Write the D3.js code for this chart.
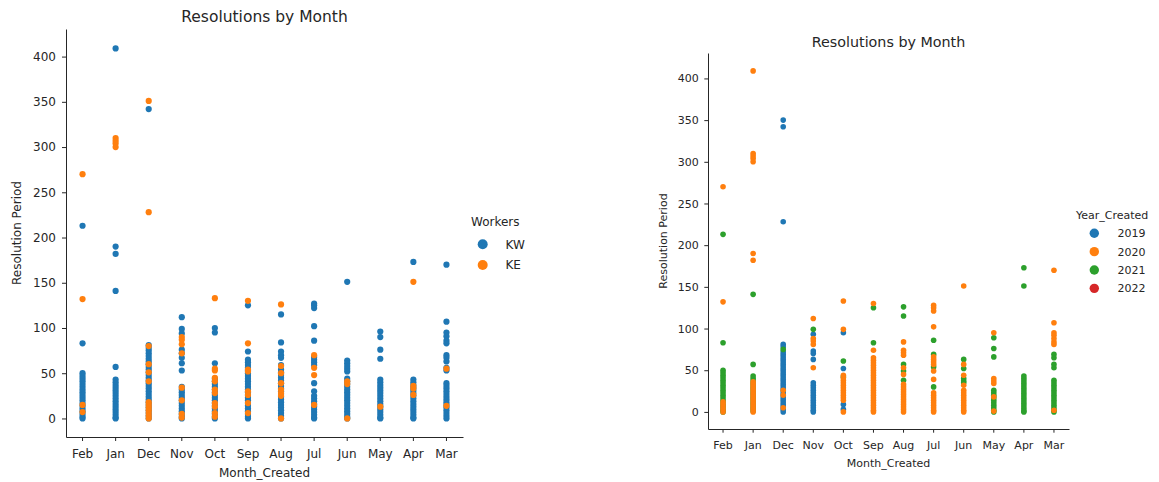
<!DOCTYPE html>
<html>
<head>
<meta charset="utf-8">
<script src="https://cdn.jsdelivr.net/npm/d3@7"></script>
<style>
  body { margin: 0; background: #fff; }
  svg { display: block; }
  text { font-family: "DejaVu Sans", sans-serif; fill: #262626; }
</style>
</head>
<body>
<svg id="chart" width="1159" height="482"></svg>
<script>
// Category order as it appears along the x axis
const months = ["Feb", "Jan", "Dec", "Nov", "Oct", "Sep", "Aug", "Jul", "Jun", "May", "Apr", "Mar"];
const yTicks = [0, 50, 100, 150, 200, 250, 300, 350, 400];

// Resolution periods split by worker group (one inner array per month, same order as `months`)
const kwValues = [
  [213, 83, 50, 47, 44, 41, 38, 35, 32, 29, 26, 23, 20, 17, 14, 11, 8, 5, 2, 0],
  [409, 190, 182, 141, 57, 43, 40, 37, 34, 31, 28, 25, 22, 19, 16, 13, 10, 7, 4, 1, 0],
  [342, 81, 78, 75, 72, 69, 66, 63, 60, 57, 54, 51, 48, 45, 42, 39, 36, 33, 30, 27, 24, 21, 18, 15, 12, 9, 6, 3, 0],
  [112, 99, 94, 76, 72, 67, 61, 53, 35, 32, 29, 26, 23, 20, 17, 14, 11, 8, 5, 2, 0],
  [100, 95, 61, 44, 41, 38, 35, 32, 29, 26, 23, 20, 17, 14, 11, 8, 5, 2, 0],
  [125, 74, 65, 62, 59, 56, 53, 50, 47, 44, 41, 38, 35, 32, 29, 26, 23, 20, 17, 14, 11, 8, 5, 2, 0],
  [115, 84, 74, 70, 67, 59, 54, 51, 48, 45, 42, 39, 36, 33, 30, 27, 24, 21, 18, 15, 12, 9, 6, 3, 0],
  [127, 125, 122, 102, 86, 68, 65, 62, 59, 39, 30, 25, 22, 19, 16, 13, 10, 7, 4, 1, 0],
  [151, 64, 61, 58, 55, 52, 44, 41, 38, 35, 32, 29, 26, 23, 20, 17, 14, 11, 8, 5, 2, 0],
  [96, 90, 76, 66, 43, 40, 37, 34, 31, 28, 25, 22, 19, 16, 13, 10, 7, 4, 1, 0],
  [173, 43, 40, 37, 34, 31, 28, 25, 22, 19, 16, 13, 10, 7, 4, 1, 0],
  [170, 107, 95, 91, 86, 83, 70, 67, 63, 56, 53, 39, 36, 33, 30, 27, 24, 21, 18, 15, 12, 9, 6, 3, 0]
];
const keValues = [
  [270, 132, 15, 7],
  [310, 307, 304, 300],
  [351, 228, 80, 60, 51, 41, 18, 15, 12, 9, 6, 3, 0],
  [90, 87, 82, 72, 34, 20, 5, 1],
  [133, 55, 53, 45, 41, 32, 28, 17, 13, 6, 2],
  [130, 83, 54, 52, 30, 26, 17, 6],
  [126, 58, 50, 39, 32, 28, 25, 0],
  [70, 56, 48, 15],
  [41, 38, 0],
  [13],
  [151, 36, 33, 26],
  [55, 14]
];

// Resolution periods split by the year the ticket was created
const y2019Values = [
  [], [],
  [350, 342, 228, 81, 78, 72, 69, 66, 63, 60, 57, 54, 51, 48, 45, 42, 39, 36, 33, 30, 27, 24, 21, 18, 15, 12, 9, 6, 3, 0],
  [93, 73, 70, 63, 35, 32, 29, 26, 23, 20, 17, 14, 11, 8, 5, 2, 0],
  [95, 52, 9, 3],
  [], [], [], [], [], [], []
];
const y2020Values = [
  [270, 132, 12, 9, 6, 3, 0],
  [409, 310, 307, 304, 300, 190, 182, 36, 33, 30, 27, 24, 21, 18, 15, 12, 9, 6, 3, 0],
  [26, 20, 5],
  [112, 88, 85, 81, 53],
  [133, 99, 44, 41, 38, 35, 32, 29, 26, 23, 20, 17, 14, 0],
  [130, 74, 65, 62, 59, 56, 53, 50, 47, 44, 41, 38, 35, 32, 29, 26, 23, 20, 17, 14, 11, 8, 5, 2, 0],
  [84, 74, 71, 68, 53, 45, 33, 30, 27, 24, 21, 18, 15, 12, 9, 6, 3, 0],
  [128, 125, 121, 102, 66, 63, 60, 57, 49, 39, 23, 20, 17, 14, 11, 8, 5, 2, 0],
  [151, 57, 44, 32, 26, 23, 20, 17, 14, 11, 8, 5, 2, 0],
  [95, 40, 37, 34, 18, 1],
  [],
  [170, 107, 95, 92, 88, 84, 81, 2]
];
const y2021Values = [
  [213, 83, 50, 47, 44, 41, 38, 35, 32, 29, 26, 23, 20, 17, 14, 11, 8, 5, 2, 0],
  [141, 57, 43, 40, 37, 34, 31, 28, 25, 22, 19, 16, 13, 10, 7, 4, 1],
  [75],
  [99],
  [61, 42],
  [125, 83],
  [126, 115, 57, 49, 38],
  [86, 69, 54, 30],
  [63, 52, 40, 37, 35],
  [89, 76, 66, 26, 23, 20, 17, 14, 11, 8, 5, 2, 0],
  [173, 151, 43, 40, 37, 34, 31, 28, 25, 22, 19, 16, 13, 10, 7, 4, 1, 0],
  [69, 65, 57, 53, 38, 35, 32, 29, 26, 23, 20, 17, 14, 11, 8, 5, 2, 0]
];
const y2022Values = [[], [], [], [], [], [], [], [], [], [], [], []];

const palette = { blue: "#1f77b4", orange: "#ff7f0e", green: "#2ca02c", red: "#d62728" };

const svg = d3.select("#chart");

function drawPanel(p) {
  const g = svg.append("g");
  const x = d3.scaleBand().domain(months).range([p.left, p.right]).padding(0);
  const y = d3.scaleLinear().domain([-20.5, 430.5]).range([p.bottom, p.top]);

  // points, one layer per series, in legend draw order
  p.drawOrder.forEach(s => {
    const pts = [];
    s.values.forEach((arr, i) => arr.forEach(v => pts.push({ m: months[i], v })));
    g.append("g").selectAll("circle").data(pts).join("circle")
      .attr("cx", d => x(d.m) + x.bandwidth() / 2)
      .attr("cy", d => y(d.v))
      .attr("r", p.r)
      .attr("fill", s.color);
  });

  // axes (left + bottom spines only)
  const yAxis = g.append("g")
    .attr("transform", `translate(${p.left},0)`)
    .call(d3.axisLeft(y).tickValues(yTicks).tickSize(p.tick).tickSizeOuter(0).tickPadding(p.ypad));
  const xAxis = g.append("g")
    .attr("transform", `translate(0,${p.bottom})`)
    .call(d3.axisBottom(x).tickSize(p.tick).tickSizeOuter(0));
  [yAxis, xAxis].forEach(a => {
    a.select(".domain").attr("stroke", "#262626").attr("stroke-width", 1);
    a.selectAll(".tick line").attr("stroke", "#262626").attr("stroke-width", 1);
    a.selectAll("text").attr("font-family", "DejaVu Sans").attr("font-size", p.font).attr("fill", "#262626");
  });
  xAxis.selectAll(".tick text").attr("y", p.xLabelBase).attr("dy", null);

  // titles and axis labels
  g.append("text").attr("x", (p.left + p.right) / 2).attr("y", p.titleY)
    .attr("text-anchor", "middle").attr("font-size", p.titleFont).text("Resolutions by Month");
  g.append("text").attr("x", (p.left + p.right) / 2).attr("y", p.xTitleY)
    .attr("text-anchor", "middle").attr("font-size", p.font).text("Month_Created");
  g.append("text")
    .attr("transform", `translate(${p.yTitleX},${(p.top + p.bottom) / 2}) rotate(-90)`)
    .attr("text-anchor", "middle").attr("dy", "0.35em").attr("font-size", p.font).text("Resolution Period");

  // legend
  const lg = g.append("g");
  lg.append("text").attr("x", p.legend.x).attr("y", p.legend.titleY).attr("dy", "0.35em")
    .attr("font-size", p.font).text(p.legend.title);
  p.legendItems.forEach((s, i) => {
    const cy = p.legend.firstY + i * p.legend.step;
    lg.append("circle").attr("cx", p.legend.markX).attr("cy", cy).attr("r", p.legend.r).attr("fill", s.color);
    lg.append("text").attr("x", p.legend.textX).attr("y", cy).attr("dy", "0.35em")
      .attr("font-size", p.font).text(s.name);
  });
}

const kw = { name: "KW", color: palette.blue, values: kwValues };
const ke = { name: "KE", color: palette.orange, values: keValues };
drawPanel({
  left: 66, right: 463, top: 29, bottom: 437, r: 3.1,
  tick: 4, ypad: 6, font: 12, titleFont: 15.5, titleY: 21.5, xTitleY: 477, yTitleX: 17, xLabelBase: 20.5,
  drawOrder: [kw, ke],
  legendItems: [kw, ke],
  legend: { title: "Workers", x: 471, titleY: 222, markX: 482.7, firstY: 244.3, step: 20.7, r: 5, textX: 505.5 }
});

const s2019 = { name: "2019", color: palette.blue, values: y2019Values };
const s2020 = { name: "2020", color: palette.orange, values: y2020Values };
const s2021 = { name: "2021", color: palette.green, values: y2021Values };
const s2022 = { name: "2022", color: palette.red, values: y2022Values };
drawPanel({
  left: 708, right: 1069, top: 53, bottom: 429, r: 2.8,
  tick: 3.7, ypad: 5.5, font: 11, titleFont: 14.3, titleY: 46.5, xTitleY: 466.5, yTitleX: 663, xLabelBase: 19.5,
  drawOrder: [s2019, s2021, s2020, s2022],
  legendItems: [s2019, s2020, s2021, s2022],
  legend: { title: "Year_Created", x: 1076, titleY: 215, markX: 1094.3, firstY: 233.3, step: 18.35, r: 4.7, textX: 1117.5 }
});
</script>
</body>
</html>
